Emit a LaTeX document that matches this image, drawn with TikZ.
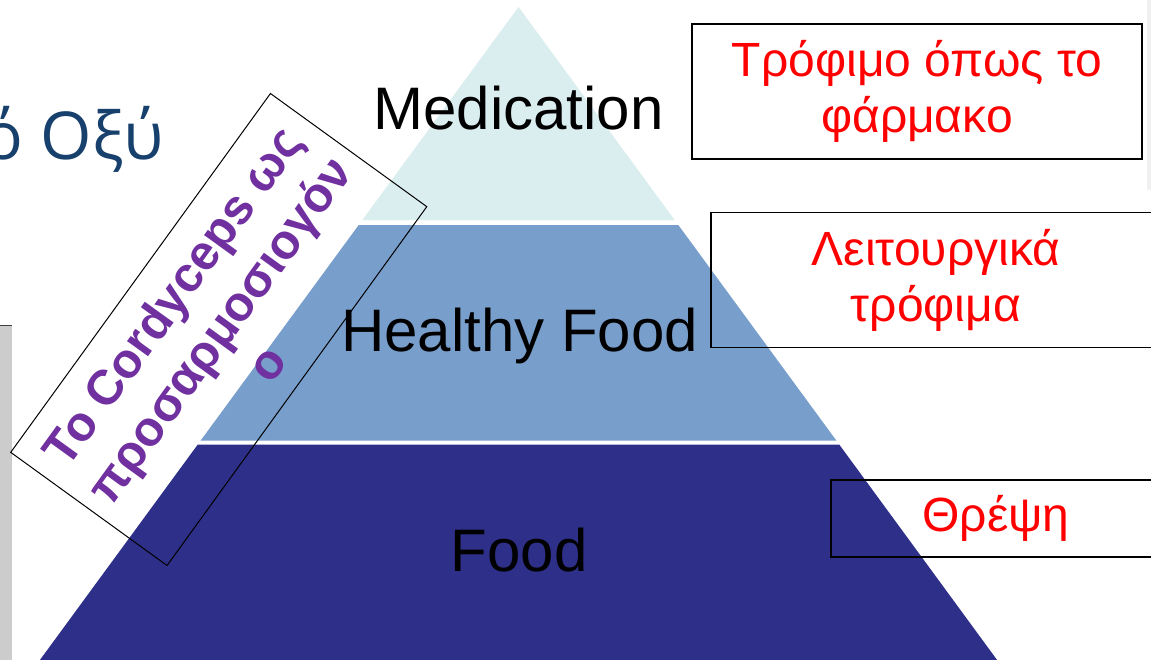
\documentclass[tikz,border=0pt]{standalone}
\usepackage{fontspec}
\setmainfont{Liberation Sans}
\newfontfamily\titlefont{Open Sans}
\usepackage{xcolor}
\definecolor{medCyan}{HTML}{DAEDEF}
\definecolor{healthBlue}{HTML}{789ECC}
\definecolor{foodNavy}{HTML}{2E2F88}
\definecolor{titleBlue}{HTML}{17406D}
\definecolor{notePurple}{HTML}{7030A0}
\definecolor{noteRed}{HTML}{FF0000}
\usepackage{tikz}
\tikzset{
    % Words written on the pyramid layers
    layer label/.style={
        font=\fontsize{60}{72}\selectfont,
        text=black,
        anchor=base,
        inner sep=0pt,
    },
    % Framed red notes on the right
    note box/.style={
        rectangle,
        draw=black,
        line width=1.4pt,
        align=center,
        text=noteRed,
        font=\fontsize{48}{56}\selectfont,
        inner sep=0pt,
    },
    % Tilted purple note
    side note/.style={
        rectangle,
        draw=black,
        line width=1pt,
        align=center,
        text=notePurple,
        font=\bfseries\fontsize{49}{58}\selectfont,
        inner sep=0pt,
    },
    % Cut-off slide title
    title text/.style={
        font=\titlefont\fontsize{66}{80}\selectfont,
        text=titleBlue,
        anchor=base east,
        inner sep=0pt,
    },
}

\begin{document}
\begin{tikzpicture}[x=1pt, y=-1pt]
    \path[use as bounding box, fill=white] (0,0) rectangle (1151,659);

    % photo edge and title
    \fill[gray!40] (0,326) rectangle (12,670);
    \draw[black!75, line width=1.2pt] (0,325.5) -- (12,325.5);
    \fill[gray!12] (1147,0) rectangle (1151,190);
    \node (title) [title text] at (164,159) {ό Οξύ};

    % pyramid
    \fill[medCyan] (518.5,7) -- (674.6,220) -- (362.4,220) -- cycle;
    \fill[healthBlue] (358.7,225) -- (678.3,225) -- (836.3,440.5) -- (200.7,440.5) -- cycle;
    \fill[foodNavy] (197.8,444.5) -- (839.2,444.5) -- (1004.4,670) -- (32.6,670) -- cycle;

    \node (medication) [layer label] at (518.5,129) {Medication};
    \node (healthy) [layer label] at (519.5,351) {Healthy Food};
    \node (food) [layer label] at (519,571) {Food};

    % notes
    \node (pharma) [note box, minimum width=450pt, minimum height=135pt] at (917,91.5) {Τρόφιμο όπως το\\φάρμακο};
    \node (functional) [note box, minimum width=450pt, minimum height=135pt] at (936,280) {Λειτουργικά\\τρόφιμα};
    \node (nutrition) [note box, minimum width=330pt, minimum height=77pt] at (996,518.5) {Θρέψη};

    \node (cordyceps) [side note, rotate=54.1, minimum width=443pt, minimum height=193pt] at (218.75,329.5) {Το Cordyceps ως\\προσαρμοσιογόν\\ο};
\end{tikzpicture}
\end{document}
